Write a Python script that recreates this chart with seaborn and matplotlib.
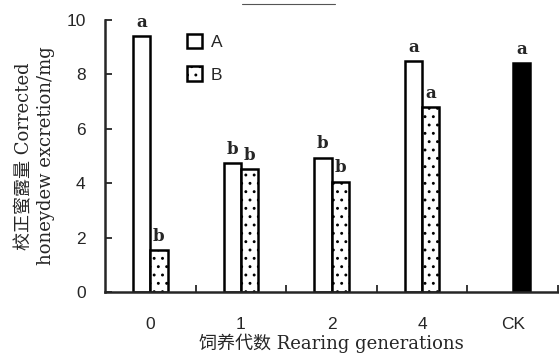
import pandas as pd
import seaborn as sns
import numpy as np
import matplotlib.pyplot as plt
from matplotlib.lines import Line2D

# values
generations = ["0", "1", "2", "4", "CK"]
group_a = [9.41, 4.74, 4.93, 8.49, np.nan]
group_b = [1.54, 4.52, 4.05, 6.80, 8.41]   # CK value sits in the right-hand slot
letters_a = ["a", "b", "b", "a", ""]
letters_b = ["b", "b", "b", "a", "a"]

df = pd.DataFrame({
    "gen": generations * 2,
    "value": group_a + group_b,
    "group": ["A"] * 5 + ["B"] * 5,
})

sns.set_style("ticks")
plt.rcParams["font.family"] = ["DejaVu Serif", "Noto Sans CJK SC"]
plt.rcParams["hatch.linewidth"] = 0.9

fig = plt.figure(figsize=(5.59, 3.55), dpi=100)
ax = fig.add_axes([105 / 559, 1 - 292 / 355, 453 / 559, 272 / 355])

sns.barplot(data=df, x="gen", y="value", hue="group", order=generations,
            hue_order=["A", "B"], width=0.38, palette=["white", "white"],
            edgecolor="black", linewidth=1.8, ax=ax)

# style the bars: B gets dots, CK solid black
for p in ax.patches:
    if p.get_height() == 0 or np.isnan(p.get_height()):
        continue
    cx = p.get_x() + p.get_width() / 2
    if cx > 3.5:
        p.set_facecolor("black")
        p.set_hatch(None)
    elif cx % 1 < 0.5 and cx % 1 > 0.01:
        p.set_hatch("..")

# significance letters
for i in range(len(generations)):
    for off, vals, labs in [(-0.095, group_a, letters_a), (0.095, group_b, letters_b)]:
        if labs[i] and not np.isnan(vals[i]):
            ax.text(i + off, vals[i] + 0.2, labs[i], ha="center", va="bottom",
                    fontsize=12, fontweight="bold", family="DejaVu Serif")

ax.set_xlim(-0.5, 4.5)
ax.set_ylim(0, 10)
ax.set_yticks(range(0, 11, 2))
ax.set_xticks(range(5))
ax.set_xticks([0.5, 1.5, 2.5, 3.5, 4.5], minor=True)
ax.tick_params(axis="y", direction="in", length=5, width=1.3, pad=14,
               labelsize=12.5, labelfontfamily="Liberation Sans")
ax.tick_params(axis="x", which="major", length=0, pad=18,
               labelsize=12.5, labelfontfamily="Liberation Sans")
ax.tick_params(axis="x", which="minor", direction="in", length=5, width=1.3)
for s in ["top", "right"]:
    ax.spines[s].set_visible(False)
for s in ["left", "bottom"]:
    ax.spines[s].set_linewidth(1.8)

ax.set_xlabel("饲养代数 Rearing generations", fontsize=13, labelpad=1)
ax.set_ylabel("校正蜜露量 Corrected\nhoneydew excretion/mg", fontsize=13,
              labelpad=8, linespacing=1.3)

handles, labels = ax.get_legend_handles_labels()
handles[1].set_hatch("..")
ax.legend(handles, labels, loc="upper left", bbox_to_anchor=(0.165, 0.975),
          frameon=False, handlelength=0.9, handleheight=0.9, handletextpad=0.5,
          labelspacing=0.95, borderaxespad=0,
          prop={"family": "Liberation Sans", "size": 12.5})

# faint scan line at the top of the figure
fig.add_artist(Line2D([242 / 559, 335 / 559], [351 / 355, 351 / 355],
                      color="#555555", linewidth=0.8))

fig.savefig("out.png", dpi=100)
